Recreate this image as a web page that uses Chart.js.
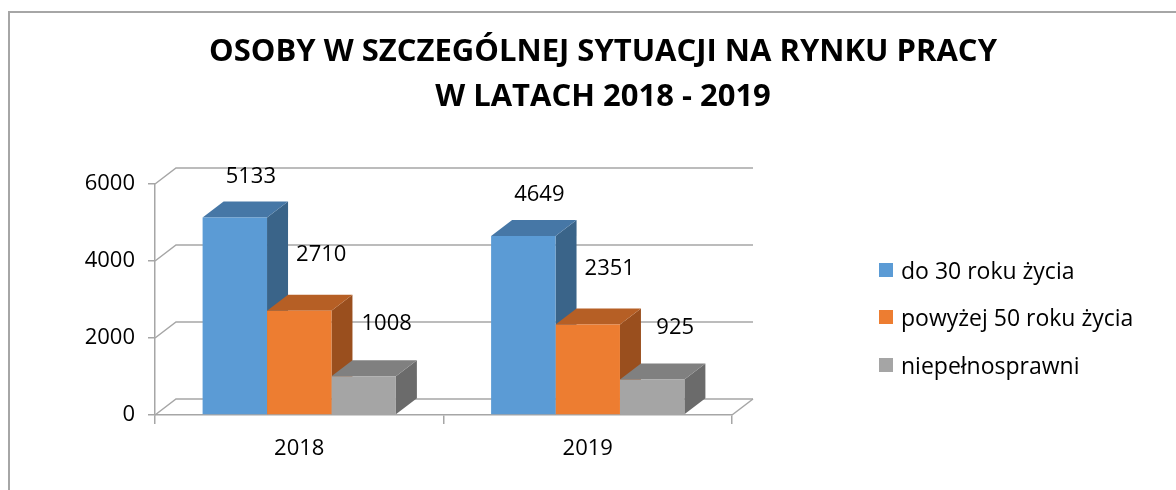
<!DOCTYPE html>
<html lang="pl">
<head>
<meta charset="utf-8">
<title>Osoby w szczególnej sytuacji na rynku pracy</title>
<script src="https://cdn.jsdelivr.net/npm/chart.js@4.4.1/dist/chart.umd.min.js"></script>
<style>
  html, body { margin: 0; padding: 0; background: #fff; }
  #wrap { position: relative; width: 1176px; height: 490px; overflow: hidden; }
  #frame { position: absolute; left: 8px; top: 11px; width: 1200px; height: 500px;
           border-left: 2px solid #a6a6a6; border-top: 2px solid #a6a6a6; }
  #chart { position: absolute; left: 0; top: 0; }
  #legend { position: absolute; left: 879px; top: 246px; margin: 0; padding: 0; list-style: none;
            font-family: "Open Sans", sans-serif; font-size: 23px; color: #000; }
  #legend li { height: 47.5px; display: flex; align-items: center; }
  #legend span.box { width: 14px; height: 14px; margin-right: 8px; display: inline-block; }
</style>
</head>
<body>
<div id="wrap">
  <div id="frame"></div>
  <canvas id="chart" width="1176" height="490"></canvas>
  <ul id="legend"></ul>
</div>
<script>
// values
const years = ["2018", "2019"];
const seriesNames = ["do 30 roku życia", "powyżej 50 roku życia", "niepełnosprawni"];
const under30 = [5133, 4649];
const over50 = [2710, 2351];
const disabled = [1008, 925];
const titleLines = ["OSOBY W SZCZEGÓLNEJ SYTUACJI NA RYNKU PRACY", "W LATACH 2018 - 2019"];

// colours: front, top, side
const fronts = ["#5b9bd5", "#ed7d31", "#a5a5a5"];
const tops = ["#4677a6", "#b65f25", "#808080"];
const sides = ["#3a6489", "#9a4f1e", "#6b6b6b"];
// where each value label sits relative to the bar's front top
const labelShift = [[16, -41], [22, -56], [23, -52]];

const depth = { dx: 21, dy: -16 };
const gridColor = "#a6a6a6";
const bodyFont = "'Open Sans', sans-serif";

// fake 3d: back wall, left wall, floor, plus tops and sides of the bars
const fake3d = {
  id: "fake3d",
  beforeDatasetsDraw(chart) {
    const { ctx, chartArea: a, scales } = chart;
    const y = scales.y;
    ctx.save();
    ctx.strokeStyle = gridColor;
    ctx.lineWidth = 1.5;
    y.ticks.forEach((t) => {
      const py = y.getPixelForValue(t.value);
      ctx.beginPath();
      ctx.moveTo(a.left, py);
      ctx.lineTo(a.left + depth.dx, py + depth.dy);
      ctx.lineTo(a.right + depth.dx, py + depth.dy);
      ctx.stroke();
    });
    ctx.beginPath();
    ctx.moveTo(a.right, a.bottom);
    ctx.lineTo(a.right + depth.dx, a.bottom + depth.dy);
    ctx.stroke();

    chart.data.datasets.forEach((ds, i) => {
      chart.getDatasetMeta(i).data.forEach((bar) => {
        const { x, y: top, base, width } = bar.getProps(["x", "y", "base", "width"], true);
        const l = x - width / 2, r = x + width / 2;
        ctx.fillStyle = sides[i];
        ctx.beginPath();
        ctx.moveTo(r, top);
        ctx.lineTo(r + depth.dx, top + depth.dy);
        ctx.lineTo(r + depth.dx, base + depth.dy);
        ctx.lineTo(r, base);
        ctx.closePath();
        ctx.fill();
        ctx.fillStyle = tops[i];
        ctx.beginPath();
        ctx.moveTo(l, top);
        ctx.lineTo(r, top);
        ctx.lineTo(r + depth.dx, top + depth.dy);
        ctx.lineTo(l + depth.dx, top + depth.dy);
        ctx.closePath();
        ctx.fill();
      });
    });
    ctx.restore();
  },
  afterDatasetsDraw(chart) {
    const { ctx } = chart;
    ctx.save();
    ctx.font = "22px " + bodyFont;
    ctx.fillStyle = "#000";
    ctx.textAlign = "center";
    ctx.textBaseline = "middle";
    chart.data.datasets.forEach((ds, i) => {
      chart.getDatasetMeta(i).data.forEach((bar, j) => {
        const { x, y } = bar.getProps(["x", "y"], true);
        ctx.fillText(String(ds.data[j]), x + labelShift[i][0], y + labelShift[i][1]);
      });
    });
    ctx.restore();
  },
};

const chart = new Chart(document.getElementById("chart"), {
  type: "bar",
  data: {
    labels: years,
    datasets: [under30, over50, disabled].map((vals, i) => ({
      label: seriesNames[i],
      data: vals,
      backgroundColor: fronts[i],
      yAxisID: "y",
      categoryPercentage: 0.67,
      barPercentage: 1,
    })),
  },
  options: {
    responsive: false,
    animation: false,
    events: [],
    layout: { padding: { left: 30, top: 0, right: 0, bottom: 0 } },
    plugins: {
      legend: { display: false },
      tooltip: { enabled: false },
      title: {
        display: true,
        text: titleLines,
        color: "#000",
        font: { family: "'Open Sans', sans-serif", size: 31, weight: "bold", lineHeight: 1.45 },
        padding: { top: 29.5, bottom: 64.6 },
      },
    },
    scales: {
      x: {
        offset: true,
        grid: { display: true, drawOnChartArea: false, tickLength: 9, color: gridColor, lineWidth: 1.5, offset: true },
        border: { color: gridColor, width: 1.5 },
        ticks: { color: "#000", font: { family: bodyFont, size: 22 }, padding: 12 },
        afterFit: (s) => { s.height = 75; },
      },
      y: {
        min: 0,
        max: 6000,
        ticks: { stepSize: 2000, color: "#000", font: { family: bodyFont, size: 22 }, padding: 13,
                 callback: (v) => String(v) },
        grid: { display: true, drawOnChartArea: false, tickLength: 7, color: gridColor, lineWidth: 1.5 },
        border: { color: gridColor, width: 1.5 },
        afterFit: (s) => { s.width = 125; },
      },
      // empty axis that keeps room on the right for the legend
      room: {
        type: "linear",
        position: "right",
        ticks: { display: false },
        grid: { display: false },
        border: { display: false },
        afterFit: (s) => { s.width = 444; },
      },
    },
  },
  plugins: [fake3d],
});

// html legend from the chart's datasets
const legendEl = document.getElementById("legend");
chart.data.datasets.forEach((ds) => {
  const li = document.createElement("li");
  const box = document.createElement("span");
  box.className = "box";
  box.style.background = ds.backgroundColor;
  li.appendChild(box);
  li.appendChild(document.createTextNode(ds.label));
  legendEl.appendChild(li);
});
</script>
</body>
</html>
